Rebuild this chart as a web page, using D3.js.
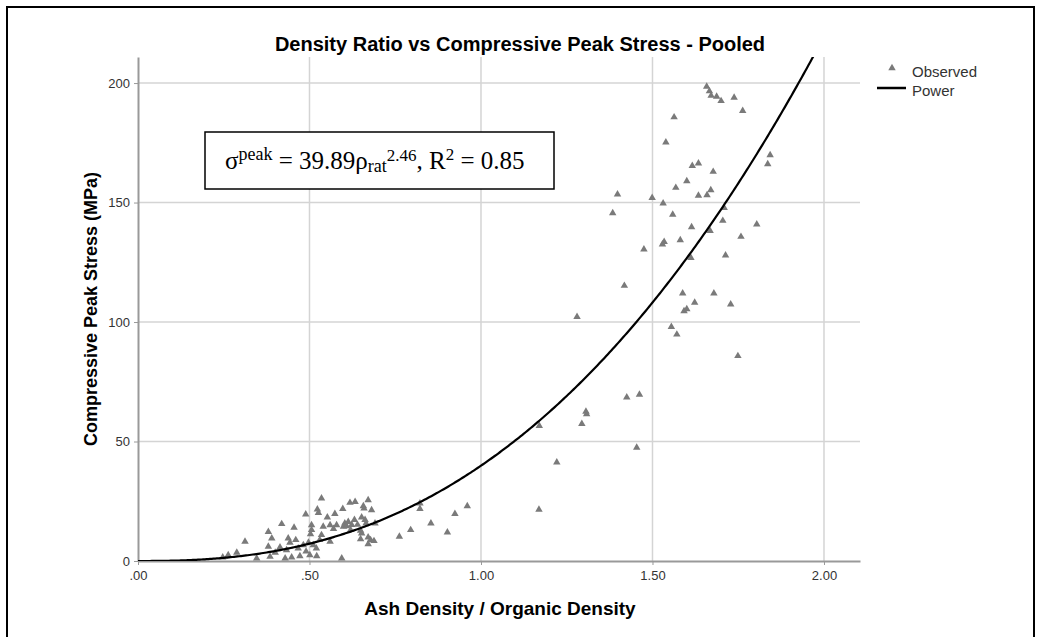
<!DOCTYPE html>
<html>
<head>
<meta charset="utf-8">
<script src="https://cdn.jsdelivr.net/npm/d3@7"></script>
<style>
  body { margin: 0; background: #fff; }
  text { font-family: Arial, "Liberation Sans", sans-serif; }
</style>
</head>
<body>
<svg id="chart" width="1045" height="637"></svg>
<script>
// observed points, [ash density / organic density, peak stress MPa]
var observed = [
  [0.247,1.5],[0.263,2.5],[0.288,3.5],[0.312,8.1],[0.346,1.1],[0.380,12.2],[0.390,9.5],[0.380,6.0],
  [0.385,1.8],[0.414,5.7],[0.419,15.5],[0.429,1.1],[0.433,4.6],[0.438,9.5],[0.443,7.7],[0.448,1.5],
  [0.455,14.0],[0.467,5.3],[0.472,2.1],[0.482,6.7],[0.489,19.5],[0.497,7.7],[0.501,2.5],[0.503,11.3],
  [0.506,13.0],[0.506,15.0],[0.511,6.7],[0.520,5.3],[0.521,2.1],[0.523,21.6],[0.526,20.2],[0.535,26.2],
  [0.535,10.9],[0.540,14.4],[0.552,18.3],[0.560,15.0],[0.560,8.1],[0.574,19.7],[0.579,15.0],[0.594,1.1],
  [0.597,21.8],[0.599,14.4],[0.603,15.8],[0.608,14.6],[0.613,16.4],[0.618,24.4],[0.623,15.1],[0.631,17.2],
  [0.633,24.8],[0.649,12.7],[0.652,11.6],[0.649,9.2],[0.652,18.3],[0.657,23.0],[0.659,22.0],[0.662,17.2],
  [0.665,15.8],[0.671,25.5],[0.671,9.9],[0.671,7.1],[0.678,8.8],[0.681,21.3],[0.688,8.4],[0.691,15.8],
  [0.400,3.5],[0.460,8.8],[0.490,4.0],[0.530,8.8],[0.570,13.5],[0.620,13.0],[0.640,15.2],
  [0.762,10.2],[0.795,13.0],[0.822,24.1],[0.822,21.8],[0.854,15.8],[0.902,12.0],[0.924,19.7],[0.960,23.0],
  [1.169,21.5],[1.170,56.6],[1.221,41.3],[1.280,102.2],[1.294,57.4],[1.306,62.5],[1.308,61.5],[1.384,145.6],
  [1.398,153.4],[1.418,115.2],[1.425,68.5],[1.454,47.5],[1.462,69.6],[1.475,130.4],[1.499,152.0],[1.529,132.5],
  [1.531,149.7],[1.534,133.6],[1.539,175.2],[1.555,98.0],[1.559,145.0],[1.563,185.7],[1.568,156.2],[1.571,94.8],
  [1.581,134.3],[1.588,112.0],[1.592,104.6],[1.600,105.4],[1.600,159.0],[1.612,126.9],[1.614,139.7],[1.616,165.4],
  [1.623,108.1],[1.634,166.4],[1.634,152.9],[1.658,198.5],[1.659,153.1],[1.666,196.6],[1.668,138.2],[1.670,155.2],
  [1.671,194.7],[1.677,162.9],[1.679,112.0],[1.687,194.3],[1.700,192.5],[1.705,142.4],[1.709,147.8],[1.713,127.9],
  [1.728,107.4],[1.738,193.9],[1.749,85.8],[1.758,135.7],[1.763,188.4],[1.804,140.9],[1.836,166.1],[1.843,169.9]
];

// power fit: stress = a * ratio^b
var fitA = 39.89;
var fitB = 2.46;

var xTicks = [0, 0.5, 1.0, 1.5, 2.0];
var xTickLabels = [".00", ".50", "1.00", "1.50", "2.00"];
var yTicks = [0, 50, 100, 150, 200];
var legendLabels = ["Observed", "Power"];

var svg = d3.select("#chart");

// plot area (don't call it top, window.top is taken)
var plotL = 138, plotR = 860, plotT = 57, plotB = 561;

var x = d3.scaleLinear().domain([0, 2.105]).range([plotL, plotR]);
var y = d3.scaleLinear().domain([0, 210.9]).range([plotB, plotT]);

// outer frame
svg.append("rect")
  .attr("x", 7).attr("y", 7)
  .attr("width", 1027).attr("height", 660)
  .attr("fill", "none")
  .attr("stroke", "#000")
  .attr("stroke-width", 2);

// grid
svg.append("g")
  .selectAll("line")
  .data(yTicks.filter(function(d) { return d > 0; }))
  .enter().append("line")
  .attr("x1", plotL).attr("x2", plotR)
  .attr("y1", function(d) { return y(d); })
  .attr("y2", function(d) { return y(d); })
  .attr("stroke", "#d4d4d4").attr("stroke-width", 1.5);

svg.append("g")
  .selectAll("line")
  .data(xTicks.filter(function(d) { return d > 0; }))
  .enter().append("line")
  .attr("y1", plotT).attr("y2", plotB)
  .attr("x1", function(d) { return x(d); })
  .attr("x2", function(d) { return x(d); })
  .attr("stroke", "#d4d4d4").attr("stroke-width", 1.5);

// axes
var xAxis = d3.axisBottom(x)
  .tickValues(xTicks)
  .tickFormat(function(d, i) { return xTickLabels[i]; })
  .tickSize(4)
  .tickSizeOuter(0);
var yAxis = d3.axisLeft(y)
  .tickValues(yTicks)
  .tickSize(4)
  .tickSizeOuter(0);

var gx = svg.append("g")
  .attr("transform", "translate(0," + plotB + ")")
  .call(xAxis);
var gy = svg.append("g")
  .attr("transform", "translate(" + plotL + ",0)")
  .call(yAxis);

[gx, gy].forEach(function(g) {
  g.select(".domain").attr("stroke", "#999").attr("stroke-width", 2);
  g.selectAll(".tick line").attr("stroke", "#999");
  g.selectAll(".tick text")
    .attr("fill", "#333")
    .style("font-family", "Arial, 'Liberation Sans', sans-serif")
    .style("font-size", "13px");
});
gx.selectAll(".tick text").attr("dy", "0.9em");
gy.selectAll(".tick text").attr("x", -8);

// points
var tri = d3.symbol().type(d3.symbolTriangle).size(24);
svg.append("g")
  .selectAll("path")
  .data(observed)
  .enter().append("path")
  .attr("d", tri)
  .attr("transform", function(d) { return "translate(" + x(d[0]) + "," + y(d[1]) + ")"; })
  .attr("fill", "#7a7a7a");

// fit curve, clipped to the plot
svg.append("clipPath").attr("id", "clip")
  .append("rect")
  .attr("x", plotL).attr("y", plotT)
  .attr("width", plotR - plotL).attr("height", plotB - plotT);

var curveX = d3.range(0, 2.0, 0.005);
var line = d3.line()
  .x(function(d) { return x(d); })
  .y(function(d) { return y(fitA * Math.pow(d, fitB)); });

svg.append("path")
  .attr("d", line(curveX))
  .attr("clip-path", "url(#clip)")
  .attr("fill", "none")
  .attr("stroke", "#000")
  .attr("stroke-width", 2.2);

// title
svg.append("text")
  .attr("x", 520).attr("y", 51)
  .attr("text-anchor", "middle")
  .style("font-size", "20px")
  .style("font-weight", "bold")
  .text("Density Ratio vs Compressive Peak Stress - Pooled");

// axis titles
svg.append("text")
  .attr("x", 500).attr("y", 615)
  .attr("text-anchor", "middle")
  .style("font-size", "19px")
  .style("font-weight", "bold")
  .text("Ash Density / Organic Density");

svg.append("text")
  .attr("transform", "translate(97,309) rotate(-90)")
  .attr("text-anchor", "middle")
  .style("font-size", "18px")
  .style("font-weight", "bold")
  .text("Compressive Peak Stress (MPa)");

// legend
svg.append("path")
  .attr("d", tri)
  .attr("transform", "translate(892,68)")
  .attr("fill", "#7a7a7a");
svg.append("line")
  .attr("x1", 877).attr("x2", 906)
  .attr("y1", 88).attr("y2", 88)
  .attr("stroke", "#000").attr("stroke-width", 2.5);
svg.selectAll("text.leg")
  .data(legendLabels)
  .enter().append("text")
  .attr("class", "leg")
  .attr("x", 912)
  .attr("y", function(d, i) { return 77 + i * 19; })
  .attr("fill", "#333")
  .style("font-size", "15px")
  .text(function(d) { return d; });

// equation box
svg.append("rect")
  .attr("x", 205).attr("y", 132)
  .attr("width", 349).attr("height", 57)
  .attr("fill", "#fff")
  .attr("stroke", "#000")
  .attr("stroke-width", 1.5);

var eq = svg.append("text")
  .attr("x", 225).attr("y", 169)
  .style("font-family", "'Liberation Serif', 'Times New Roman', serif")
  .style("font-size", "25px");
eq.append("tspan").text("\u03C3");
eq.append("tspan").attr("dy", -9).style("font-size", "18px").text("peak");
eq.append("tspan").attr("dy", 9).text(" = 39.89\u03C1");
eq.append("tspan").attr("dy", 3).style("font-size", "18px").text("rat");
eq.append("tspan").attr("dy", -11).style("font-size", "17px").text("2.46");
eq.append("tspan").attr("dy", 8).text(", R");
eq.append("tspan").attr("dy", -9).style("font-size", "17px").text("2");
eq.append("tspan").attr("dy", 9).text(" = 0.85");
</script>
</body>
</html>
